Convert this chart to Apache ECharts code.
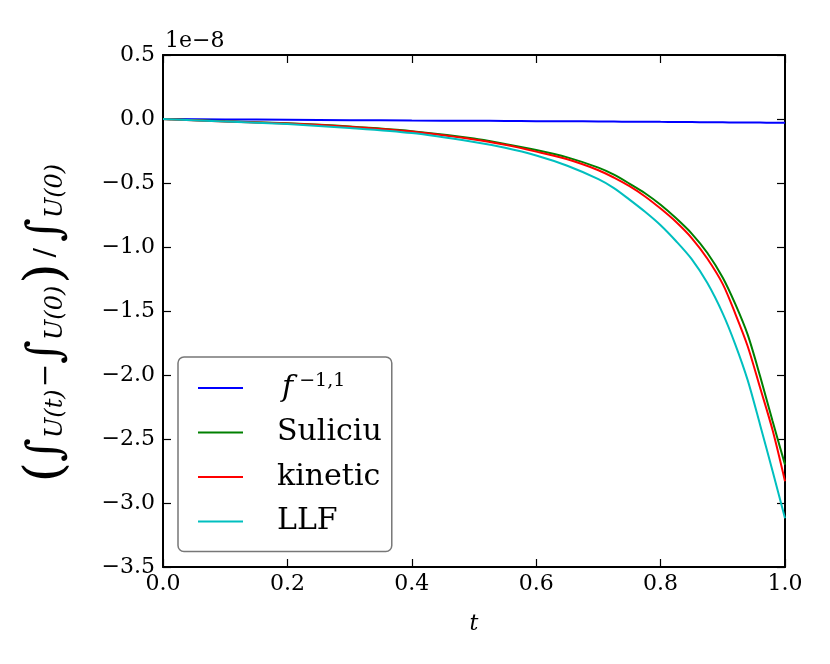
<!DOCTYPE html>
<html>
<head>
<meta charset="utf-8">
<script src="https://cdn.jsdelivr.net/npm/echarts@6/dist/echarts.min.js"></script>
<title>relative mass error</title>
</head>
<body style="margin:0;background:#fff">
<div id="main" style="width:830px;height:664px"></div>
<script>
// time samples (denser near t = 1 where the curves bend down)
var tValues = [0, 0.1, 0.2, 0.3, 0.4, 0.5, 0.55, 0.6, 0.65, 0.7, 0.725, 0.75, 0.775, 0.8, 0.825, 0.85, 0.875, 0.9, 0.92, 0.94, 0.96, 0.98, 1.0];

// relative error, in units of 1e-8
var fluxF = [0, -0.003, -0.006, -0.009, -0.012, -0.014, -0.015, -0.017, -0.018, -0.019, -0.020, -0.021, -0.021, -0.022, -0.023, -0.024, -0.025, -0.026, -0.027, -0.028, -0.028, -0.029, -0.030];
var suliciu = [0, -0.018, -0.034, -0.059, -0.095, -0.152, -0.195, -0.242, -0.30, -0.38, -0.435, -0.505, -0.58, -0.67, -0.776, -0.895, -1.045, -1.24, -1.445, -1.685, -2.01, -2.36, -2.70];
var kinetic = [0, -0.019, -0.035, -0.06, -0.098, -0.16, -0.202, -0.255, -0.315, -0.40, -0.458, -0.525, -0.605, -0.70, -0.805, -0.93, -1.09, -1.29, -1.52, -1.775, -2.10, -2.43, -2.83];
var llf = [0, -0.02, -0.04, -0.07, -0.11, -0.18, -0.225, -0.285, -0.365, -0.47, -0.54, -0.63, -0.725, -0.83, -0.955, -1.095, -1.28, -1.52, -1.76, -2.04, -2.39, -2.75, -3.12];

var xTicks = { min: 0, max: 1, interval: 0.2 };
var yTicks = { min: -3.5, max: 0.5, interval: 0.5 };

function pairs(vals) {
    var out = [];
    for (var i = 0; i < tValues.length; i++) out.push([tValues[i], vals[i]]);
    return out;
}

var serif = 'DejaVu Serif';
var black = '#000';

function fmtY(v) {
    return (v < 0 ? '\u2212' : '') + Math.abs(v).toFixed(1);
}

var myChart = echarts.init(document.getElementById('main'));

function curve(name, color, vals) {
    return {
        name: name,
        type: 'line',
        data: pairs(vals),
        smooth: 0.3,
        symbol: 'none',
        lineStyle: { color: color, width: 2 },
        itemStyle: { color: color },
        animation: false
    };
}

var option = {
    backgroundColor: '#fff',
    grid: { left: 163, right: 45, top: 55, bottom: 97, containLabel: false, outerBoundsMode: 'none' },
    legend: {
        orient: 'vertical',
        left: 178,
        top: 357,
        padding: [14, 10, 13, 20],
        backgroundColor: '#fff',
        borderColor: '#777',
        borderWidth: 1.5,
        borderRadius: 6,
        icon: 'rect',
        itemWidth: 45,
        itemHeight: 2,
        itemGap: 10.5,
        selectedMode: false,
        textStyle: {
            fontFamily: serif,
            fontSize: 30,
            lineHeight: 34,
            color: black,
            padding: [0, 0, 0, 29],
            rich: {
                f: { fontFamily: serif, fontStyle: 'italic', fontSize: 30, lineHeight: 34, padding: [0, 0, 0, 5] },
                sup: { fontFamily: serif, fontSize: 19, lineHeight: 34, padding: [0, 0, 14, 0] }
            }
        },
        formatter: function (name) {
            if (name === 'f') return '{f|f}{sup| \u22121,1}';
            return name;
        },
        data: ['f', 'Suliciu', 'kinetic', 'LLF']
    },
    xAxis: [{
        type: 'value',
        min: xTicks.min, max: xTicks.max, interval: xTicks.interval,
        name: 't',
        nameLocation: 'middle',
        nameGap: 46,
        nameTextStyle: { fontFamily: serif, fontStyle: 'italic', fontSize: 22, color: black },
        axisLine: { show: true, onZero: false, lineStyle: { color: black, width: 2 } },
        axisTick: { show: true, inside: true, length: 8, lineStyle: { color: black, width: 1.2 } },
        axisLabel: { fontFamily: serif, fontSize: 22, color: black, margin: 6, formatter: function (v) { return v.toFixed(1); } },
        splitLine: { show: false }
    }, {
        type: 'value', position: 'top',
        min: xTicks.min, max: xTicks.max, interval: xTicks.interval,
        axisLine: { show: true, onZero: false, lineStyle: { color: black, width: 2 } },
        axisTick: { show: true, inside: true, length: 8, lineStyle: { color: black, width: 1.2 } },
        axisLabel: { show: false },
        splitLine: { show: false }
    }],
    yAxis: [{
        type: 'value',
        min: yTicks.min, max: yTicks.max, interval: yTicks.interval,
        name: '{p|(}{i|\u222B}{s|U(t)}{m|\u2212}{i|\u222B}{s|U(0)}{p|)}{sl|/}{i|\u222B}{s|U(0)}',
        nameLocation: 'middle',
        nameRotate: 90,
        nameGap: 86,
        nameTextStyle: {
            fontFamily: serif, color: black,
            padding: [0, 22, 0, 0],
            rich: {
                p: { fontFamily: serif, fontSize: 52, lineHeight: 60 },
                i: { fontFamily: serif, fontSize: 46, lineHeight: 60, fontStyle: 'italic' },
                s: { fontFamily: serif, fontSize: 24, lineHeight: 60, fontStyle: 'italic', padding: [18, 2, 0, 0] },
                m: { fontFamily: serif, fontSize: 28, lineHeight: 60 },
                sl: { fontFamily: serif, fontSize: 28, lineHeight: 60, padding: [0, 6, 0, 6] }
            }
        },
        axisLine: { show: true, onZero: false, lineStyle: { color: black, width: 2 } },
        axisTick: { show: true, inside: true, length: 8, lineStyle: { color: black, width: 1.2 } },
        axisLabel: { fontFamily: serif, fontSize: 22, color: black, margin: 8, formatter: fmtY },
        splitLine: { show: false }
    }, {
        type: 'value', position: 'right',
        min: yTicks.min, max: yTicks.max, interval: yTicks.interval,
        axisLine: { show: true, onZero: false, lineStyle: { color: black, width: 2 } },
        axisTick: { show: true, inside: true, length: 8, lineStyle: { color: black, width: 1.2 } },
        axisLabel: { show: false },
        splitLine: { show: false }
    }],
    graphic: [{
        // offset text of the y axis
        type: 'text',
        left: 165,
        top: 30,
        style: { text: '1e\u22128', fontFamily: serif, fontSize: 22, fill: black }
    }],
    series: [
        curve('f', '#0000ff', fluxF),
        curve('Suliciu', '#008000', suliciu),
        curve('kinetic', '#ff0000', kinetic),
        curve('LLF', '#00bfbf', llf)
    ]
};
myChart.setOption(option);
</script>
</body>
</html>
